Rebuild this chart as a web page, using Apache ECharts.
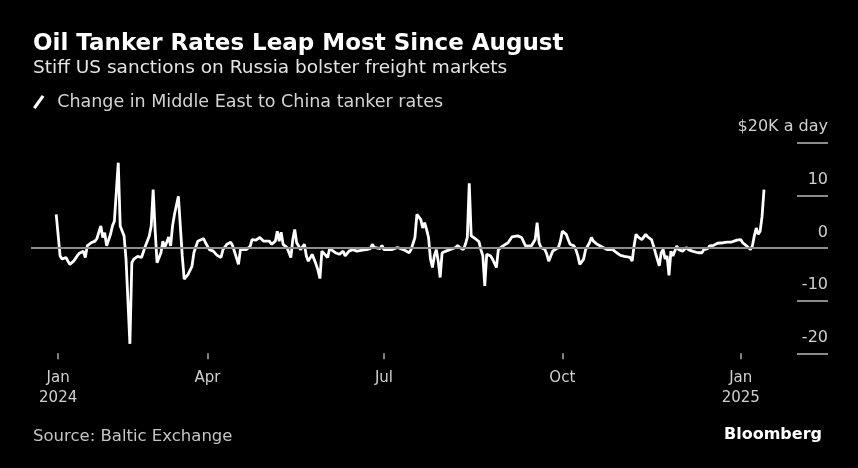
<!DOCTYPE html>
<html><head><meta charset="utf-8">
<script src="https://cdn.jsdelivr.net/npm/echarts@6/dist/echarts.min.js"></script>
<style>html,body{margin:0;padding:0;background:#000;}#chart{width:858px;height:468px;}</style>
</head><body><div id="chart"></div>
<script>
const dates = [
'2024-01-14','2024-01-16','2024-01-17','2024-01-19','2024-01-21','2024-01-23','2024-01-25','2024-01-26','2024-01-28','2024-01-29',
'2024-01-30','2024-02-01','2024-02-03','2024-02-04','2024-02-06','2024-02-07','2024-02-08','2024-02-09','2024-02-11','2024-02-12',
'2024-02-13','2024-02-15','2024-02-16','2024-02-18','2024-02-19','2024-02-21','2024-02-22','2024-02-23','2024-02-25','2024-02-26',
'2024-02-27','2024-02-29','2024-03-02','2024-03-03','2024-03-04','2024-03-05','2024-03-06','2024-03-08','2024-03-09','2024-03-10',
'2024-03-12','2024-03-13','2024-03-14','2024-03-15','2024-03-17','2024-03-18','2024-03-19','2024-03-20','2024-03-22','2024-03-24',
'2024-03-25','2024-03-27','2024-03-28','2024-03-30','2024-03-31','2024-04-02','2024-04-03','2024-04-04','2024-04-06','2024-04-08',
'2024-04-09','2024-04-11','2024-04-13','2024-04-14','2024-04-15','2024-04-17','2024-04-18','2024-04-19','2024-04-21','2024-04-23',
'2024-04-24','2024-04-26','2024-04-28','2024-04-29','2024-04-30','2024-05-01','2024-05-03','2024-05-04','2024-05-06','2024-05-07',
'2024-05-08','2024-05-09','2024-05-10','2024-05-11','2024-05-12','2024-05-14','2024-05-15','2024-05-16','2024-05-17','2024-05-18',
'2024-05-19','2024-05-21','2024-05-22','2024-05-23','2024-05-25','2024-05-26','2024-05-27','2024-05-28','2024-05-29','2024-05-30',
'2024-05-31','2024-06-02','2024-06-03','2024-06-04','2024-06-06','2024-06-08','2024-06-10','2024-06-11','2024-06-13','2024-06-15',
'2024-06-17','2024-06-18','2024-06-20','2024-06-22','2024-06-24','2024-06-25','2024-06-26','2024-06-27','2024-06-29','2024-06-30',
'2024-07-01','2024-07-03','2024-07-05','2024-07-06','2024-07-08','2024-07-09','2024-07-11','2024-07-12','2024-07-14','2024-07-15',
'2024-07-17','2024-07-18','2024-07-20','2024-07-21','2024-07-22','2024-07-23','2024-07-24','2024-07-25','2024-07-26','2024-07-27',
'2024-07-28','2024-07-29','2024-07-30','2024-07-31','2024-08-02','2024-08-04','2024-08-05','2024-08-07','2024-08-08','2024-08-09',
'2024-08-11','2024-08-12','2024-08-13','2024-08-14','2024-08-15','2024-08-17','2024-08-19','2024-08-20','2024-08-21','2024-08-22',
'2024-08-23','2024-08-25','2024-08-26','2024-08-28','2024-08-29','2024-08-31','2024-09-01','2024-09-03','2024-09-05','2024-09-06',
'2024-09-08','2024-09-09','2024-09-10','2024-09-12','2024-09-13','2024-09-15','2024-09-16','2024-09-17','2024-09-18','2024-09-19',
'2024-09-20','2024-09-22','2024-09-23','2024-09-24','2024-09-25','2024-09-26','2024-09-27','2024-09-29','2024-09-30','2024-10-01',
'2024-10-03','2024-10-04','2024-10-05','2024-10-07','2024-10-08','2024-10-09','2024-10-10','2024-10-12','2024-10-13','2024-10-15',
'2024-10-16','2024-10-17','2024-10-19','2024-10-20','2024-10-22','2024-10-24','2024-10-25','2024-10-27','2024-10-29','2024-10-31',
'2024-11-02','2024-11-03','2024-11-05','2024-11-06','2024-11-07','2024-11-08','2024-11-09','2024-11-10','2024-11-11','2024-11-13',
'2024-11-14','2024-11-16','2024-11-17','2024-11-18','2024-11-20','2024-11-21','2024-11-22','2024-11-23','2024-11-24','2024-11-25',
'2024-11-26','2024-11-27','2024-11-29','2024-11-30','2024-12-02','2024-12-04','2024-12-05','2024-12-07','2024-12-08','2024-12-10',
'2024-12-12','2024-12-13','2024-12-15','2024-12-16','2024-12-18','2024-12-20','2024-12-21','2024-12-23','2024-12-25','2024-12-27',
'2024-12-28','2024-12-30','2025-01-01','2025-01-02','2025-01-04','2025-01-06','2025-01-07','2025-01-08','2025-01-09','2025-01-10',
'2025-01-11','2025-01-12','2025-01-13'
];
const changes = [
6.4,-1.5,-2.1,-1.8,-3.1,-2.5,-1.4,-1.0,-0.6,-1.8,
0.4,1.0,1.3,1.8,4.2,2.0,2.9,0.4,2.6,4.2,
5.1,16.2,4.2,2.3,-2.1,-18.2,-2.8,-2.1,-1.6,-1.4,
-1.8,0.4,2.3,4.2,11.1,3.5,-2.8,-0.9,1.3,0.1,
2.1,0.4,4.2,6.4,9.8,4.2,-1.5,-5.9,-5.0,-3.5,
-0.9,1.3,1.6,1.8,1.0,-0.3,-0.1,-0.6,-1.4,-1.8,
-0.3,0.7,1.1,0.4,0.1,-3.1,-0.3,-0.4,-0.3,0.3,
1.6,1.5,2.0,2.3,1.3,1.6,1.3,0.7,1.3,3.2,
1.3,3.0,0.7,1.0,0.1,-1.8,1.6,3.5,1.0,0.4,
-0.3,0.7,-1.5,-2.5,-1.2,-1.5,-3.1,-4.2,-5.8,-0.6,
-0.3,-1.8,-0.1,0.1,-0.9,-1.2,-0.6,-1.5,-0.6,-0.3,
-0.6,-0.4,-0.4,-0.3,-0.1,0.7,0.1,0.4,-0.1,0.5,
-0.3,-0.3,-0.3,-0.6,0.1,0.4,-0.3,-0.6,-0.9,-0.3,
2.0,6.4,5.4,3.8,4.8,3.5,2.0,-2.1,-3.7,-1.5,
-0.3,-2.5,-5.6,-0.9,-0.6,-0.3,-0.6,0.1,0.5,0.1,
-0.3,0.7,2.0,12.3,2.3,1.8,1.2,-0.3,-1.5,-7.2,
-1.2,-1.5,-2.1,-3.7,-0.3,0.3,0.4,1.0,2.1,2.0,
2.3,2.1,2.0,0.4,0.4,0.4,1.0,1.6,4.8,1.0,
0.1,-0.3,-1.2,-2.5,-2.8,-0.6,-0.3,0.1,1.3,3.2,
2.6,1.6,0.7,0.4,-0.3,-1.5,-3.1,-2.1,-0.3,1.0,
2.0,1.3,0.7,0.4,0.1,-0.3,-0.6,-0.3,-0.9,-1.4,
-1.6,-1.6,-1.8,-2.5,0.4,2.6,2.1,2.0,1.6,2.6,
2.1,1.6,0.4,-0.9,-3.4,-0.9,-0.3,-2.1,-1.5,-5.2,
-0.6,-1.5,0.4,-0.3,-0.6,0.1,-0.3,-0.6,-0.8,-0.9,
-0.9,-0.3,-0.1,0.4,0.5,0.9,0.7,1.0,1.1,1.1,
1.3,1.5,1.6,1.0,0.4,-0.3,0.4,2.3,3.8,2.6,
3.2,6.0,11.1
];
const xTickDates = ['2024-01-15','2024-04-01','2024-07-01','2024-10-01','2025-01-01'];
const xTickLabels = ['Jan\n2024','Apr','Jul','Oct','Jan\n2025'];
const yTickValues = [-20,-10,0,10,20];
const yTickLabels = ['-20','-10','0','10','$20K a day'];

const FONT = 'DejaVu Sans';
const ts = s => new Date(s + 'T00:00:00').getTime();
const xTickTs = xTickDates.map(ts);
const seriesData = dates.map((d, i) => [ts(d), changes[i]]);

const chart = echarts.init(document.getElementById('chart'), null, {renderer: 'canvas'});
chart.setOption({
  backgroundColor: '#000',
  animation: false,
  title: {
    left: 33, top: 33, padding: 0,
    text: 'Oil Tanker Rates Leap Most Since August',
    textStyle: {color: '#ffffff', fontSize: 23, fontWeight: 'bold', fontFamily: FONT},
    subtext: 'Stiff US sanctions on Russia bolster freight markets',
    subtextStyle: {color: '#e4e4e4', fontSize: 18.5, fontFamily: FONT},
    itemGap: 3
  },
  legend: {
    left: 33, top: 93, padding: 0,
    data: ['Change in Middle East to China tanker rates'],
    icon: 'path://M0,14 L10,0 L13,2 L3,16 Z',
    itemWidth: 13, itemHeight: 14,
    textStyle: {color: '#d4d4d4', fontSize: 17.5, fontFamily: FONT, padding: [0, 0, 0, 7]},
    itemStyle: {color: '#ffffff'},
    selectedMode: false
  },
  grid: {left: 31, right: 30, top: 142.7, bottom: 114.7, containLabel: false},
  xAxis: {
    type: 'value',
    min: ts('2024-01-01'),
    max: ts('2025-02-15'),
    axisLine: {show: false, onZero: false},
    splitLine: {show: false},
    axisTick: {show: true, customValues: xTickTs, length: 6, lineStyle: {color: '#aaaaaa', width: 1.5}},
    axisLabel: {
      customValues: xTickTs,
      color: '#d0d0d0', fontSize: 15, fontFamily: FONT, lineHeight: 20, margin: 15,
      formatter: function (v) {
        let best = 0, bd = Infinity;
        xTickTs.forEach((t, i) => { const dd = Math.abs(t - v); if (dd < bd) { bd = dd; best = i; } });
        return xTickLabels[best];
      }
    }
  },
  yAxis: {
    type: 'value',
    position: 'right',
    min: -20, max: 20, interval: 10,
    axisLine: {show: false},
    splitLine: {show: false},
    axisTick: {show: true, inside: true, length: 31, lineStyle: {color: '#bbbbbb', width: 1.5}},
    axisLabel: {
      inside: true, margin: 0, align: 'right', verticalAlign: 'bottom', lineHeight: 31,
      color: '#d0d0d0', fontSize: 16, fontFamily: FONT,
      formatter: function (v) { const i = yTickValues.indexOf(v); return i >= 0 ? yTickLabels[i] : ''; }
    }
  },
  series: [
    {
      type: 'line', z: 1, data: [], silent: true,
      markLine: {
        silent: true, symbol: ['none', 'none'], label: {show: false},
        lineStyle: {color: '#8c8c8c', width: 2, type: 'solid'},
        data: [{yAxis: 0}]
      }
    },
    {
      name: 'Change in Middle East to China tanker rates',
      type: 'line', z: 3,
      data: seriesData,
      showSymbol: false, symbol: 'none',
      lineStyle: {color: '#ffffff', width: 2.8},
      itemStyle: {color: '#ffffff'}
    }
  ],
  graphic: [
    {type: 'text', left: 33, top: 428, style: {text: 'Source: Baltic Exchange', fill: '#c4c4c4', fontSize: 16.5, fontFamily: FONT}},
    {type: 'text', right: 36, top: 427, style: {text: 'Bloomberg', fill: '#ffffff', fontSize: 16, fontWeight: 'bold', fontFamily: FONT}}
  ]
});
</script></body></html>
